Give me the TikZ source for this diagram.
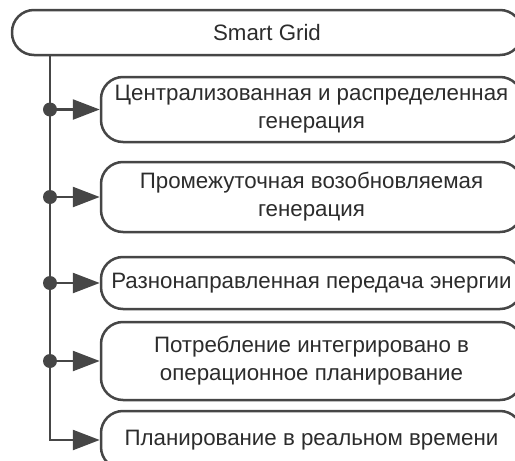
\documentclass[tikz,border=0pt]{standalone}
\usepackage{fontspec}
\setmainfont{Liberation Sans}
\usetikzlibrary{arrows.meta}
\definecolor{edge}{HTML}{464646}
\definecolor{ink}{HTML}{2C2C2C}
\begin{document}
\begin{tikzpicture}[x=1pt,y=-1pt,
  box/.style={draw=edge, line width=2.5pt, rounded corners=22pt, fill=white,
    text=ink, align=center, inner sep=0pt, minimum width=421pt,
    font=\fontsize{22.3}{28}\selectfont},
  link/.style={draw=edge, line width=2.5pt,
    -{Triangle[length=27pt,width=20pt]}},
  joint/.style={fill=edge}]
\useasboundingbox (0,0) rectangle (515,461);
\clip (0,0) rectangle (515,461);
% header
\node[box, minimum width=510pt, minimum height=45pt] (top) at (267,32.5) {Smart Grid};
% component boxes
\node[box, minimum height=65pt] (b1) at (311.5,109.5) {Централизованная и распределенная\\генерация};
\node[box, minimum height=70pt] (b2) at (311.5,197) {Промежуточная возобновляемая\\генерация};
\node[box, minimum height=52pt] (b3) at (311.5,283) {Разнонаправленная передача энергии};
\node[box, minimum height=78pt] (b4) at (311.5,361) {Потребление интегрировано в\\операционное планирование};
\node[box, minimum height=58pt] (b5) at (311.5,440) {Планирование в реальном времени};
% trunk and branches
\coordinate (t0) at (50,55);
\draw[link] (t0) |- (b5.west);
\foreach \i in {1,...,4}{
  \coordinate (j\i) at (b\i.west -| t0);
  \draw[link] (j\i) -- (b\i.west);
  \fill[joint] (j\i) circle (7pt);
}
\end{tikzpicture}
\end{document}
